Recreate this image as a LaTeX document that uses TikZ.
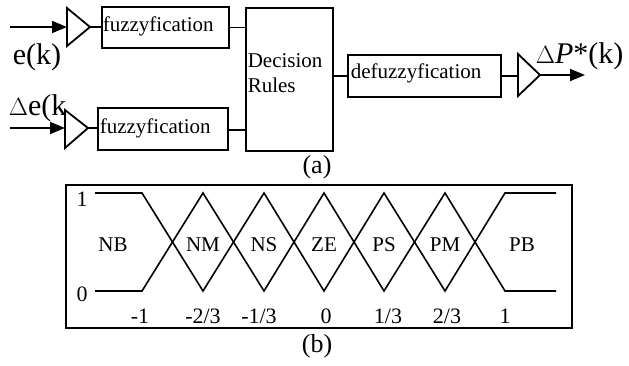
\documentclass[tikz,border=0pt]{standalone}
\usepackage{fontspec}
\setmainfont{Liberation Serif}
\usetikzlibrary{arrows.meta}
\begin{document}
\begin{tikzpicture}[x=1pt,y=-1pt,line width=1.6pt,
  blk/.style={draw,line width=1.8pt},
  txt/.style={inner sep=0pt,font=\fontsize{21}{25}\selectfont},
  big/.style={inner sep=0pt,font=\fontsize{30}{34}\selectfont},
  captxt/.style={inner sep=0pt,font=\fontsize{26}{30}\selectfont},
  arr/.style={-{Triangle[length=15pt,width=12pt]}},
  mf/.style={line width=1.6pt,line join=miter}]
\useasboundingbox (0,0) rectangle (629,365);
% block diagram (a)
\coordinate (in1) at (10,27);
\coordinate (in2) at (10,128);
\coordinate (t1a) at (67,8); \coordinate (t1b) at (67,46); \coordinate (t1c) at (90,27);
\coordinate (t2a) at (65,110); \coordinate (t2b) at (65,148); \coordinate (t2c) at (88,128);
\draw[blk] (t1a) -- (t1c) -- (t1b) -- cycle;
\draw[blk] (t2a) -- (t2c) -- (t2b) -- cycle;
\node[blk,minimum width=127pt,minimum height=41pt,anchor=west,inner sep=0pt] (f1) at (101,27.5) {};
\node[blk,minimum width=130pt,minimum height=42pt,anchor=west,inner sep=0pt] (f2) at (97,129) {};
\node[txt,anchor=base west] (f1t) at (102,31) {fuzzyfication};
\node[txt,anchor=base west] (f2t) at (99,133) {fuzzyfication};
\node[blk,minimum width=87pt,minimum height=143pt,anchor=north west,inner sep=0pt] (dr) at (245,7) {};
\node[txt,anchor=base west] (drt1) at (247,67) {Decision};
\node[txt,anchor=base west] (drt2) at (247,92) {Rules};
\node[blk,minimum width=153pt,minimum height=42pt,anchor=west,inner sep=0pt] (df) at (347,76) {};
\node[txt,anchor=base west] (dft) at (350,78) {defuzzyfication};
\coordinate (t3a) at (518,54); \coordinate (t3b) at (518,96); \coordinate (t3c) at (540,75);
\draw[blk] (t3a) -- (t3c) -- (t3b) -- cycle;
\coordinate (out) at (585,75);
\draw[arr] (in1) -- (t1a |- in1);
\draw[arr] (in2) -- (t2a |- in2);
\draw (t1c) -- (t1c -| f1.west);
\draw (t2c) -- (t2c -| f2.west);
\draw (f1.east) -- (f1.east -| dr.west);
\draw (f2.east |- 0,130) -- (dr.west |- 0,130);
\draw (dr.east |- df.west) -- (df.west);
\draw (df.east) -- (t3a |- df.east);
\draw[arr] (t3c) -- (out);
\node[big,anchor=base west] (ek) at (12,64) {e(k)};
\node[big,anchor=base west] (dek) at (8,115) {$\Delta$e(k};
\node[big,anchor=base west] (dp) at (535,63) {$\Delta$\textit{P}*(k)};
\node[captxt,anchor=base] (la) at (317,173) {(a)};
% membership functions (b)
\node[blk,minimum width=506pt,minimum height=143pt,anchor=north west,inner sep=0pt] (fr) at (65,184) {};
\draw[mf] (95,193) -- (142,193) -- (203,291) -- (264,193) -- (324,291) -- (384,193) -- (445,291) -- (505,193) -- (556,193);
\draw[mf] (95,291) -- (142,291) -- (203,193) -- (264,291) -- (324,193) -- (384,291) -- (445,193) -- (505,291) -- (556,291);
\node[txt,font=\fontsize{22}{25}\selectfont] (y1) at (82,199) {1};
\node[txt,font=\fontsize{22}{25}\selectfont] (y0) at (82,294) {0};
\foreach \n/\x in {NB/113,NM/203,NS/264,ZE/324,PS/384,PM/445,PB/522}
  \node[txt,font=\fontsize{21}{24}\selectfont,anchor=base] (l\n) at (\x,251) {\n};
\foreach \n/\v/\x in {a/-1/140,b/-2\slash 3/203,c/-1\slash 3/259,d/0/326,e/1\slash 3/388,f/2\slash 3/447,g/1/505}
  \node[txt,font=\fontsize{22}{24}\selectfont,anchor=base] (n\n) at (\x,323) {\v};
\node[captxt,anchor=base] (lb) at (317,352) {(b)};
\end{tikzpicture}
\end{document}
